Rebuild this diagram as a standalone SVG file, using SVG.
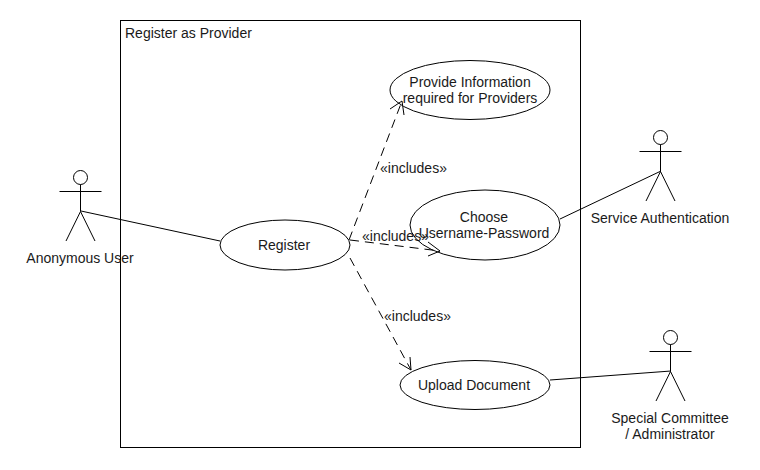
<svg xmlns="http://www.w3.org/2000/svg" width="760" height="470" viewBox="0 0 760 470">
<style>
text{font-family:"Liberation Sans",Arial,sans-serif;font-size:14px;fill:#1a1a1a}
.m{text-anchor:middle}
.s{fill:none;stroke:#000;stroke-width:1}
.d{stroke-dasharray:9 6}
</style>
<defs>
<g id="stick" class="s">
<circle cx="0" cy="0" r="7"/>
<path d="M0 7V34M-21 14H21M0 34L-14.500 63.500M0 34L14.500 63.500"/>
</g>
</defs>
<rect id="boundary" class="s" x="120.500" y="20.500" width="460" height="427"/>
<text x="125" y="37.500">Register as Provider</text>
<g id="connectors" class="s">
<path d="M81 211L220 241"/>
<path d="M560 219L661 171"/>
<path d="M550 380L671 371"/>
<path class="d" d="M349 240L402 101"/>
<path d="M390 109L402 101L404 115"/>
<path class="d" d="M350 240L440 251"/>
<path d="M428 242L440 251L428 256"/>
<path class="d" d="M350 258L411 370"/>
<path d="M399 363L411 370L410 357"/>
</g>
<text x="380" y="173">«includes»</text>
<text x="362" y="241">«includes»</text>
<text x="384" y="321">«includes»</text>
<g id="actor-anonymous"><use href="#stick" x="80.500" y="177.500"/><text class="m" x="80" y="263">Anonymous User</text></g>
<g id="actor-service"><use href="#stick" x="660.500" y="137.500"/><text class="m" x="660" y="223">Service Authentication</text></g>
<g id="actor-committee"><use href="#stick" x="670.500" y="337.500"/><text class="m" x="670" y="423">Special Committee</text><text class="m" x="670" y="439">/ Administrator</text></g>
<g id="uc-register"><ellipse class="s" cx="285" cy="245" rx="65" ry="25"/><text class="m" x="284" y="250">Register</text></g>
<g id="uc-provide"><ellipse class="s" cx="470" cy="90" rx="80" ry="29.500"/><text class="m" x="470" y="87">Provide Information</text><text class="m" x="470" y="103">required for Providers</text></g>
<g id="uc-choose"><ellipse class="s" cx="485" cy="225" rx="75" ry="35"/><text class="m" x="484" y="222">Choose</text><text class="m" x="484" y="238">Username-Password</text></g>
<g id="uc-upload"><ellipse class="s" cx="475" cy="385" rx="75" ry="24.500"/><text class="m" x="474" y="390">Upload Document</text></g>
</svg>
